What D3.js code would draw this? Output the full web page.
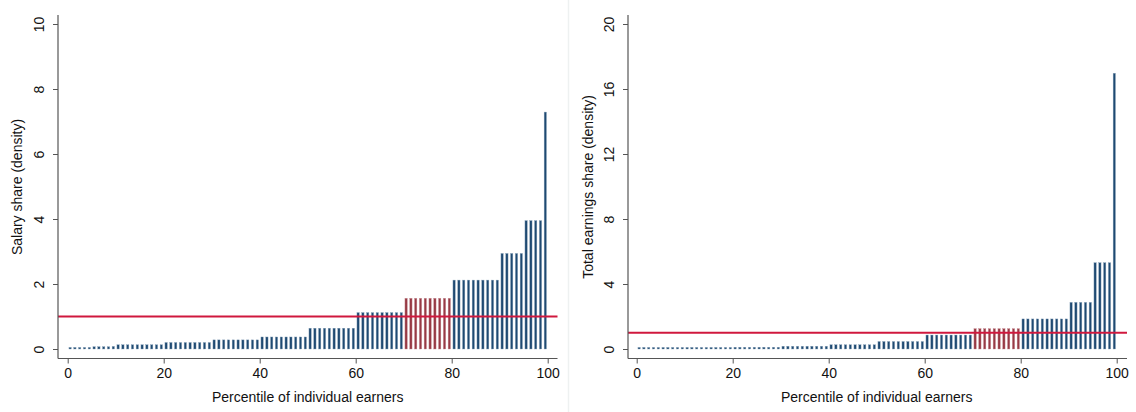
<!DOCTYPE html>
<html>
<head>
<meta charset="utf-8">
<script src="https://cdn.jsdelivr.net/npm/d3@7/dist/d3.min.js"></script>
<style>
  html, body { margin: 0; padding: 0; background: #fff; }
  svg { display: block; font-family: Arial, "Liberation Sans", sans-serif; }
</style>
</head>
<body>
<svg id="chart" width="1136" height="412"></svg>
<script>
// percentiles of individual earners
const percentiles = d3.range(1, 101);

// Salary share (density) per percentile
const salaryShare = [
  0.02, 0.04, 0.04, 0.04, 0.05, 0.07, 0.07, 0.07, 0.07, 0.08,
  0.13, 0.13, 0.13, 0.13, 0.13, 0.13, 0.13, 0.13, 0.13, 0.13,
  0.20, 0.20, 0.20, 0.20, 0.20, 0.20, 0.20, 0.20, 0.20, 0.20,
  0.28, 0.28, 0.28, 0.28, 0.28, 0.28, 0.28, 0.28, 0.28, 0.28,
  0.37, 0.37, 0.37, 0.37, 0.37, 0.37, 0.37, 0.37, 0.37, 0.37,
  0.64, 0.64, 0.64, 0.64, 0.64, 0.64, 0.64, 0.64, 0.64, 0.64,
  1.12, 1.12, 1.12, 1.12, 1.12, 1.12, 1.12, 1.12, 1.12, 1.12,
  1.56, 1.56, 1.56, 1.56, 1.56, 1.56, 1.56, 1.56, 1.56, 1.56,
  2.12, 2.12, 2.12, 2.12, 2.12, 2.12, 2.12, 2.12, 2.12, 2.12,
  2.94, 2.94, 2.94, 2.94, 2.94, 3.95, 3.95, 3.95, 3.95, 7.29
];

// Total earnings share (density) per percentile
const earningsShare = [
  0.02, 0.02, 0.03, 0.03, 0.03, 0.03, 0.04, 0.04, 0.04, 0.04,
  0.06, 0.06, 0.06, 0.06, 0.06, 0.06, 0.06, 0.06, 0.06, 0.06,
  0.11, 0.11, 0.11, 0.11, 0.11, 0.11, 0.11, 0.11, 0.11, 0.11,
  0.17, 0.17, 0.17, 0.17, 0.17, 0.17, 0.17, 0.17, 0.17, 0.17,
  0.26, 0.26, 0.26, 0.26, 0.26, 0.26, 0.26, 0.26, 0.26, 0.26,
  0.46, 0.46, 0.46, 0.46, 0.46, 0.46, 0.46, 0.46, 0.46, 0.46,
  0.86, 0.86, 0.86, 0.86, 0.86, 0.86, 0.86, 0.86, 0.86, 0.86,
  1.25, 1.25, 1.25, 1.25, 1.25, 1.25, 1.25, 1.25, 1.25, 1.25,
  1.85, 1.85, 1.85, 1.85, 1.85, 1.85, 1.85, 1.85, 1.85, 1.85,
  2.87, 2.87, 2.87, 2.87, 2.87, 5.31, 5.31, 5.31, 5.31, 16.97
];

// highlighted decile (percentiles 71-80)
const highlightFrom = 71, highlightTo = 80;
const referenceLevel = 1;

const xTicks = [0, 20, 40, 60, 80, 100];
const salaryTicks = [0, 2, 4, 6, 8, 10];
const earningsTicks = [0, 4, 8, 12, 16, 20];

const xTitle = "Percentile of individual earners";
const salaryTitle = "Salary share (density)";
const earningsTitle = "Total earnings share (density)";

const svg = d3.select("#chart");
const AXIS = "#555";
const NAVY = "#1f4a72";
const CRAN = "#983a45";
const REDLINE = "#d0183e";
const FONT = "14px";

// faint separator between the two panels
svg.append("line").attr("x1", 568.5).attr("x2", 568.5).attr("y1", 0).attr("y2", 412)
  .attr("stroke", "#eef1f1").attr("stroke-width", 1.5);

function panel(cfg) {
  const x = d3.scaleLinear().domain([0, 100]).range([cfg.x0, cfg.x100]);
  const y = d3.scaleLinear().domain([0, cfg.ymax]).range([349, 24]);
  const g = svg.append("g");

  // bars
  const bw = 2.3;
  g.selectAll("rect.bar").data(percentiles).join("rect")
    .attr("class", "bar")
    .attr("x", p => x(p - 0.5) - bw / 2)
    .attr("width", bw)
    .attr("y", (p, i) => Math.min(y(cfg.values[i]), y(0) - 1.6))
    .attr("height", (p, i) => Math.max(1.6, y(0) - y(cfg.values[i])))
    .attr("fill", p => (p >= highlightFrom && p <= highlightTo) ? CRAN : NAVY)
    .attr("stroke", p => (p >= highlightFrom && p <= highlightTo) ? "#c48a91" : "#8aa3ba")
    .attr("stroke-width", 0.4);

  // reference line at density 1
  g.append("line")
    .attr("x1", cfg.axisX).attr("x2", cfg.xEnd)
    .attr("y1", y(referenceLevel)).attr("y2", y(referenceLevel))
    .attr("stroke", REDLINE).attr("stroke-width", 2);

  // y axis
  const ya = g.append("g").attr("transform", `translate(${cfg.axisX},0)`)
    .call(d3.axisLeft(y).tickValues(cfg.yticks).tickSize(5).tickSizeOuter(0).tickFormat(d3.format("d")));
  ya.select(".domain").remove();
  ya.selectAll(".tick line").attr("stroke", AXIS);
  ya.selectAll(".tick text")
    .attr("x", null).attr("dy", null)
    .attr("text-anchor", "middle")
    .attr("transform", "translate(-19,0) rotate(-90)")
    .attr("dy", "0.35em")
    .attr("fill", "#111").style("font-size", FONT).style("font-family", "Arial, 'Liberation Sans', sans-serif");
  g.append("line").attr("x1", cfg.axisX).attr("x2", cfg.axisX).attr("y1", 15).attr("y2", 358.5)
    .attr("stroke", AXIS).attr("stroke-width", 1.2);

  // x axis
  const xa = g.append("g").attr("transform", "translate(0,358.5)")
    .call(d3.axisBottom(x).tickValues(xTicks).tickSize(5).tickSizeOuter(0).tickFormat(d3.format("d")));
  xa.select(".domain").remove();
  xa.selectAll(".tick line").attr("stroke", AXIS);
  xa.selectAll(".tick text").attr("y", 10).attr("dy", "0.71em")
    .attr("fill", "#111").style("font-size", FONT).style("font-family", "Arial, 'Liberation Sans', sans-serif");
  g.append("line").attr("x1", cfg.axisX).attr("x2", cfg.xEnd).attr("y1", 358.5).attr("y2", 358.5)
    .attr("stroke", AXIS).attr("stroke-width", 1.2);

  // titles
  g.append("text").attr("x", (cfg.x0 + cfg.x100) / 2).attr("y", 402)
    .attr("text-anchor", "middle").attr("fill", "#111").style("font-size", FONT)
    .text(xTitle);
  g.append("text")
    .attr("transform", `translate(${cfg.titleX},187) rotate(-90)`)
    .attr("text-anchor", "middle").attr("dy", "0.35em").attr("fill", "#111").style("font-size", FONT)
    .text(cfg.title);
}

panel({ values: salaryShare, ymax: 10, yticks: salaryTicks, title: salaryTitle,
        x0: 67.7, x100: 547.7, axisX: 58, xEnd: 557.5, titleX: 17 });
panel({ values: earningsShare, ymax: 20, yticks: earningsTicks, title: earningsTitle,
        x0: 636.7, x100: 1116.7, axisX: 628, xEnd: 1127, titleX: 588 });
</script>
</body>
</html>
